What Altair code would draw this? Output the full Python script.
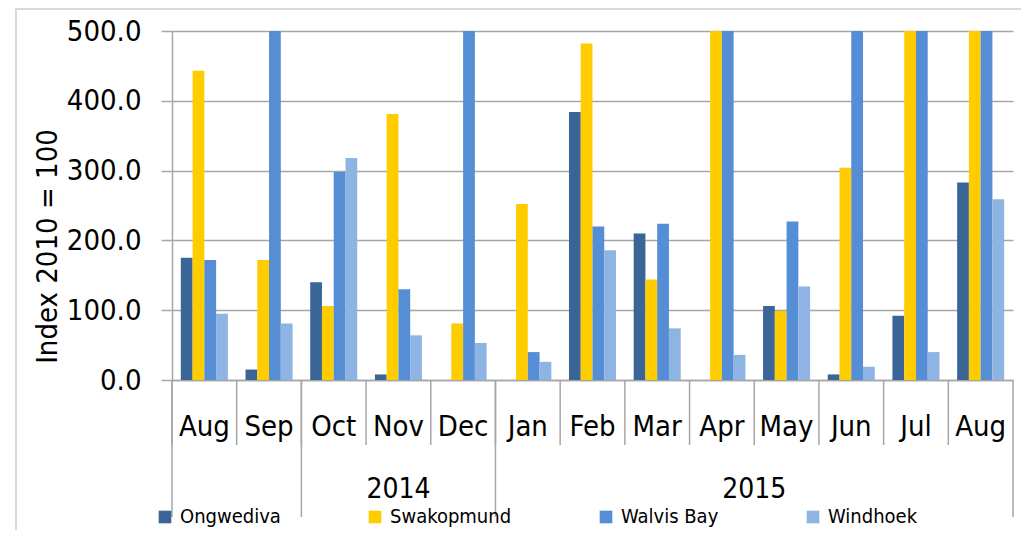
import altair as alt
import pandas as pd

months = ["Aug", "Sep", "Oct", "Nov", "Dec", "Jan", "Feb", "Mar", "Apr", "May", "Jun", "Jul", "Aug"]
years = ["2014"] * 5 + ["2015"] * 8
year_labels = ["2014", "2015"]
series = ["Ongwediva", "Swakopmund", "Walvis Bay", "Windhoek"]
colors = ["#3B6597", "#FFCC00", "#558ED5", "#8EB4E3"]
ongwediva = [175, 15, 140, 8, 0, 0, 384, 210, 0, 106, 8, 92, 283]
swakopmund = [443, 172, 106, 381, 81, 252, 482, 144, 500, 99, 304, 500, 500]
walvis_bay = [172, 500, 298, 130, 500, 40, 220, 224, 500, 227, 500, 500, 500]
windhoek = [95, 81, 318, 64, 53, 26, 186, 74, 36, 134, 19, 40, 259]
y_ticks = [0, 100, 200, 300, 400, 500]

keys = [f"{y} {m}" for y, m in zip(years, months)]
values = [ongwediva, swakopmund, walvis_bay, windhoek]
rows = []
for s, vals in zip(series, values):
    for k, v in zip(keys, vals):
        rows.append({"key": k, "series": s, "value": v})
df = pd.DataFrame(rows)

W, H = 841, 349
FONT = "DejaVu Sans Condensed, Liberation Sans Narrow, Liberation Sans, sans-serif"
GRID = "#a6a6a6"
FS = 29

xscale = alt.Scale(domain=keys, paddingInner=0, paddingOuter=0)
xaxis = alt.Axis(title=None, labelExpr="split(datum.value, ' ')[1]", ticks=False,
                 domainColor=GRID, domainWidth=1.5, labelAngle=0, labelFontSize=FS,
                 labelFont=FONT, labelColor="#000000", labelPadding=32, grid=False)


def xenc(band=0.5):
    return alt.X("key:N", scale=xscale, sort=keys, axis=xaxis, bandPosition=band)


bars = alt.Chart(df).mark_bar(clip=True).encode(
    x=xenc(),
    xOffset=alt.XOffset("series:N", sort=series,
                        scale=alt.Scale(domain=series, paddingInner=0, paddingOuter=0.75)),
    y=alt.Y("value:Q", scale=alt.Scale(domain=[0, 500], nice=False),
            axis=alt.Axis(title="Index 2010 = 100", values=y_ticks, format=".1f",
                          tickSize=11, tickColor=GRID, tickWidth=1.5,
                          domainColor=GRID, domainWidth=1.5,
                          gridColor=GRID, gridWidth=1.5,
                          labelFontSize=FS, labelFont=FONT, labelColor="#000000",
                          labelPadding=20, titleFontSize=FS, titleFont=FONT,
                          titleFontWeight="normal", titleColor="#000000", titlePadding=4,
                          titleY=215)),
    color=alt.Color("series:N", sort=series, scale=alt.Scale(domain=series, range=colors),
                    legend=alt.Legend(title=None, orient="none", legendX=-17, legendY=H + 127,
                                      direction="horizontal", symbolType="square",
                                      symbolSize=160, symbolStrokeWidth=0,
                                      labelFontSize=20, labelFont=FONT, labelColor="#000000",
                                      labelOffset=5, columnPadding=84)),
)

short_df = pd.DataFrame({"key": keys})
long_df = pd.DataFrame({"key": ["2014 Aug", "2014 Oct", "2015 Jan"]})
end_df = pd.DataFrame({"key": ["2015 Aug"]})

short_rules = alt.Chart(short_df).mark_rule(color=GRID, strokeWidth=1.5).encode(
    x=xenc(0), y=alt.value(H), y2=alt.value(H + 65))
long_rules = alt.Chart(long_df).mark_rule(color=GRID, strokeWidth=1.5).encode(
    x=xenc(0), y=alt.value(H), y2=alt.value(H + 137))
end_rule = alt.Chart(end_df).mark_rule(color=GRID, strokeWidth=1.5).encode(
    x=xenc(1), y=alt.value(H), y2=alt.value(H + 137))

y2014 = alt.Chart(pd.DataFrame({"key": ["2014 Nov"], "label": [year_labels[0]]})).mark_text(
    fontSize=28, font=FONT, color="#000000", baseline="middle").encode(
    x=xenc(0.5), y=alt.value(H + 110), text="label:N")
y2015 = alt.Chart(pd.DataFrame({"key": ["2015 Apr"], "label": [year_labels[1]]})).mark_text(
    fontSize=28, font=FONT, color="#000000", baseline="middle").encode(
    x=xenc(1), y=alt.value(H + 110), text="label:N")

frame = alt.Chart(pd.DataFrame({"a": [0]})).mark_rect(
    fillOpacity=0, stroke="#d9d9d9", strokeWidth=2).encode(
    x=alt.value(-156), x2=alt.value(W + 12), y=alt.value(-22), y2=alt.value(H + 200))

chart = alt.layer(frame, short_rules, long_rules, end_rule, bars, y2014, y2015).properties(
    width=W, height=H,
    autosize=alt.AutoSizeParams(type="none"),
    padding={"left": 164, "top": 23, "right": 8, "bottom": 150},
).configure_view(stroke=None)

chart.save("out.html", embed_options={"renderer": "svg", "actions": False})
